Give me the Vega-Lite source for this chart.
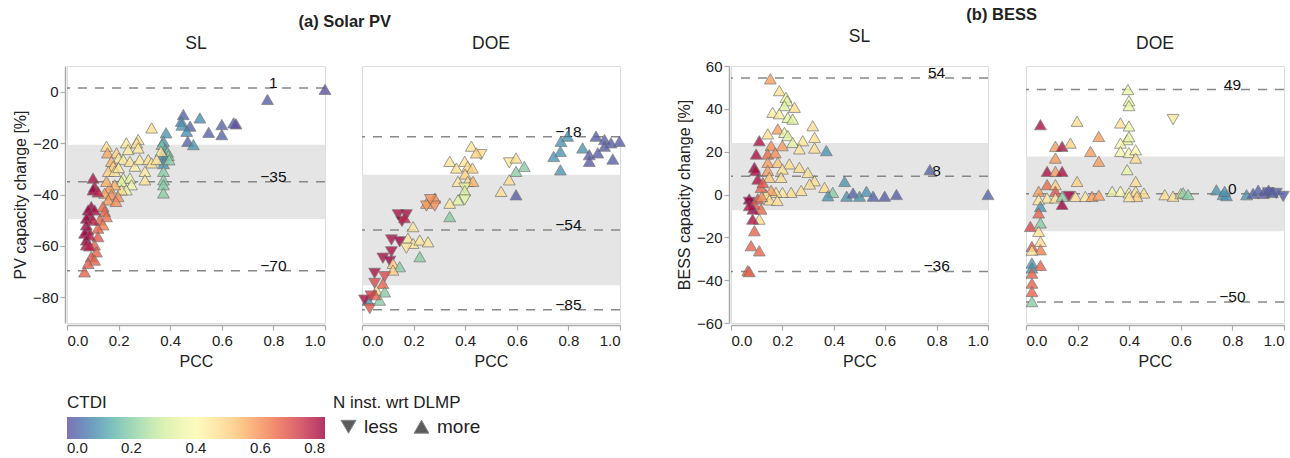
{
  "$schema": "https://vega.github.io/schema/vega-lite/v6.json",
  "padding": {"left": 12, "top": 6, "right": 0, "bottom": 0},
  "config": {
    "font": "Liberation Sans",
    "view": {"stroke": "#dcdcdc"},
    "axis": {"offset": 2, "domainColor": "#aaa", "domainWidth": 1.5, "tickColor": "#aaa", "tickWidth": 1.2, "tickSize": 5, "grid": false, "labelFontSize": 15, "titleFontSize": 16, "labelColor": "#222", "titleColor": "#222", "titleFontWeight": "normal"},
    "axisX": {"labelPadding": 3, "titlePadding": 5},
    "legend": {"titleFontWeight": "normal", "titleFontSize": 17, "titleColor": "#222", "labelColor": "#222"},
    "title": {"color": "#222"}
  },
  "datasets": {
    "pvsl": [
      {"x":1.0,"y":0.9,"c":0.0,"n":"more"},{"x":0.777,"y":-3.0,"c":0.02,"n":"more"},{"x":0.451,"y":-8.9,"c":0.03,"n":"more"},{"x":0.443,"y":-11.5,"c":0.08,"n":"more"},{"x":0.445,"y":-13,"c":0.1,"n":"more"},{"x":0.477,"y":-13.4,"c":0.03,"n":"more"},{"x":0.464,"y":-15.4,"c":0.09,"n":"more"},{"x":0.468,"y":-19.3,"c":0.03,"n":"more"},{"x":0.49,"y":-20.6,"c":0.1,"n":"more"},{"x":0.515,"y":-10.2,"c":0.09,"n":"more"},{"x":0.549,"y":-15.8,"c":0.03,"n":"more"},{"x":0.6,"y":-12.8,"c":0.03,"n":"more"},{"x":0.6,"y":-16.7,"c":0.03,"n":"more"},{"x":0.646,"y":-12.1,"c":0.02,"n":"more"},{"x":0.655,"y":-12.5,"c":0.0,"n":"more"},
      {"x":0.384,"y":-16,"c":0.1,"n":"more"},{"x":0.374,"y":-19.3,"c":0.1,"n":"more"},{"x":0.368,"y":-20.5,"c":0.17,"n":"more"},{"x":0.38,"y":-22.5,"c":0.12,"n":"more"},{"x":0.39,"y":-23.5,"c":0.2,"n":"more"},{"x":0.393,"y":-24.8,"c":0.2,"n":"more"},{"x":0.374,"y":-24.5,"c":0.1,"n":"more"},{"x":0.374,"y":-26.4,"c":0.1,"n":"more"},{"x":0.374,"y":-28,"c":0.1,"n":"more"},{"x":0.396,"y":-26.5,"c":0.2,"n":"more"},{"x":0.374,"y":-31,"c":0.2,"n":"more"},{"x":0.374,"y":-34.3,"c":0.2,"n":"more"},{"x":0.374,"y":-36.2,"c":0.19,"n":"more"},{"x":0.374,"y":-39.4,"c":0.2,"n":"more"},{"x":0.364,"y":-23.2,"c":0.45,"n":"more"},
      {"x":0.328,"y":-14.1,"c":0.47,"n":"more"},{"x":0.153,"y":-21.2,"c":0.47,"n":"more"},{"x":0.157,"y":-23.8,"c":0.57,"n":"more"},{"x":0.23,"y":-19.9,"c":0.45,"n":"more"},{"x":0.237,"y":-22.5,"c":0.44,"n":"more"},{"x":0.276,"y":-18.6,"c":0.45,"n":"more"},{"x":0.27,"y":-19.9,"c":0.47,"n":"more"},{"x":0.276,"y":-21.9,"c":0.44,"n":"more"},{"x":0.192,"y":-23.8,"c":0.5,"n":"more"},{"x":0.2,"y":-25.8,"c":0.45,"n":"more"},{"x":0.218,"y":-26.4,"c":0.43,"n":"more"},{"x":0.244,"y":-27.1,"c":0.45,"n":"more"},{"x":0.263,"y":-29,"c":0.42,"n":"more"},{"x":0.282,"y":-26.4,"c":0.44,"n":"more"},{"x":0.315,"y":-26.4,"c":0.47,"n":"more"},{"x":0.328,"y":-27.7,"c":0.45,"n":"more"},{"x":0.302,"y":-31,"c":0.44,"n":"more"},{"x":0.302,"y":-34.3,"c":0.46,"n":"more"},{"x":0.348,"y":-26.4,"c":0.47,"n":"more"},
      {"x":0.172,"y":-27.1,"c":0.55,"n":"more"},{"x":0.179,"y":-29,"c":0.5,"n":"more"},{"x":0.16,"y":-31,"c":0.5,"n":"more"},{"x":0.185,"y":-31,"c":0.46,"n":"more"},{"x":0.2,"y":-29.5,"c":0.45,"n":"more"},{"x":0.218,"y":-33.6,"c":0.35,"n":"more"},{"x":0.244,"y":-33.6,"c":0.34,"n":"more"},{"x":0.211,"y":-34.9,"c":0.32,"n":"more"},{"x":0.25,"y":-36.2,"c":0.36,"n":"more"},{"x":0.23,"y":-38.2,"c":0.36,"n":"more"},{"x":0.211,"y":-38.2,"c":0.48,"n":"more"},{"x":0.185,"y":-36.2,"c":0.55,"n":"more"},{"x":0.165,"y":-37.5,"c":0.58,"n":"more"},{"x":0.153,"y":-34.9,"c":0.56,"n":"more"},{"x":0.146,"y":-39.5,"c":0.57,"n":"more"},{"x":0.172,"y":-40.1,"c":0.6,"n":"more"},{"x":0.198,"y":-40.8,"c":0.6,"n":"more"},{"x":0.16,"y":-42.1,"c":0.58,"n":"more"},{"x":0.19,"y":-42.7,"c":0.6,"n":"more"},
      {"x":0.14,"y":-44.7,"c":0.65,"n":"more"},{"x":0.146,"y":-46.6,"c":0.66,"n":"more"},{"x":0.153,"y":-48.6,"c":0.64,"n":"more"},{"x":0.127,"y":-49.9,"c":0.66,"n":"more"},{"x":0.14,"y":-51.8,"c":0.62,"n":"more"},{"x":0.12,"y":-53.1,"c":0.66,"n":"more"},{"x":0.12,"y":-56.4,"c":0.68,"n":"more"},{"x":0.107,"y":-59.6,"c":0.67,"n":"more"},{"x":0.114,"y":-62.3,"c":0.66,"n":"more"},{"x":0.094,"y":-64.2,"c":0.68,"n":"more"},{"x":0.107,"y":-65.5,"c":0.66,"n":"more"},{"x":0.082,"y":-66.8,"c":0.67,"n":"more"},{"x":0.068,"y":-70.1,"c":0.66,"n":"more"},
      {"x":0.101,"y":-33.6,"c":0.78,"n":"more"},{"x":0.107,"y":-36.9,"c":0.78,"n":"more"},{"x":0.101,"y":-38.2,"c":0.8,"n":"more"},{"x":0.12,"y":-39,"c":0.76,"n":"more"},{"x":0.094,"y":-44.7,"c":0.8,"n":"more"},{"x":0.107,"y":-46,"c":0.78,"n":"more"},{"x":0.082,"y":-46,"c":0.8,"n":"more"},{"x":0.088,"y":-48,"c":0.78,"n":"more"},{"x":0.075,"y":-49.2,"c":0.8,"n":"more"},{"x":0.1,"y":-50,"c":0.76,"n":"more"},{"x":0.075,"y":-51.8,"c":0.8,"n":"more"},{"x":0.082,"y":-53.8,"c":0.78,"n":"more"},{"x":0.068,"y":-55,"c":0.8,"n":"more"},{"x":0.087,"y":-55.8,"c":0.77,"n":"more"},{"x":0.075,"y":-57.7,"c":0.8,"n":"more"},{"x":0.075,"y":-59.6,"c":0.78,"n":"more"},{"x":0.087,"y":-60,"c":0.76,"n":"more"}
    ],
    "pvdoe": [
      {"x":0.771,"y":-19.3,"c":0.1,"n":"more"},{"x":0.797,"y":-17.3,"c":0.1,"n":"more"},{"x":0.769,"y":-23.2,"c":0.1,"n":"more"},{"x":0.743,"y":-25.2,"c":0.1,"n":"more"},{"x":0.769,"y":-30.4,"c":0.1,"n":"more"},{"x":0.855,"y":-21.9,"c":0.1,"n":"more"},{"x":0.907,"y":-17.3,"c":0.02,"n":"more"},{"x":0.94,"y":-18.6,"c":0.02,"n":"more"},{"x":0.965,"y":-19.9,"c":0.02,"n":"more"},{"x":0.998,"y":-19.3,"c":0.02,"n":"more"},{"x":0.94,"y":-21.2,"c":0.02,"n":"more"},{"x":0.914,"y":-23.8,"c":0.02,"n":"more"},{"x":0.881,"y":-24.5,"c":0.02,"n":"more"},{"x":0.881,"y":-27.1,"c":0.02,"n":"more"},{"x":0.972,"y":-26.2,"c":0.02,"n":"more"},
      {"x":0.461,"y":-24.5,"c":0.47,"n":"less"},{"x":0.571,"y":-27.7,"c":0.45,"n":"less"},{"x":0.597,"y":-25.8,"c":0.47,"n":"more"},{"x":0.629,"y":-29.1,"c":0.2,"n":"more"},{"x":0.597,"y":-31,"c":0.2,"n":"more"},{"x":0.571,"y":-34.3,"c":0.47,"n":"more"},{"x":0.539,"y":-38.8,"c":0.47,"n":"more"},{"x":0.597,"y":-40.1,"c":0.02,"n":"more"},
      {"x":0.424,"y":-21.2,"c":0.45,"n":"more"},{"x":0.443,"y":-23.8,"c":0.5,"n":"more"},{"x":0.34,"y":-27.1,"c":0.45,"n":"more"},{"x":0.398,"y":-27.1,"c":0.45,"n":"more"},{"x":0.366,"y":-29.7,"c":0.48,"n":"more"},{"x":0.41,"y":-29,"c":0.48,"n":"more"},{"x":0.428,"y":-29.7,"c":0.5,"n":"more"},{"x":0.4,"y":-32,"c":0.5,"n":"more"},{"x":0.372,"y":-34.9,"c":0.45,"n":"more"},{"x":0.41,"y":-34.9,"c":0.47,"n":"more"},{"x":0.43,"y":-34.9,"c":0.55,"n":"more"},{"x":0.398,"y":-37.5,"c":0.35,"n":"less"},{"x":0.398,"y":-38.5,"c":0.3,"n":"more"},{"x":0.398,"y":-42.1,"c":0.33,"n":"less"},{"x":0.372,"y":-42.1,"c":0.33,"n":"more"},{"x":0.34,"y":-43.4,"c":0.45,"n":"more"},{"x":0.34,"y":-48.6,"c":0.2,"n":"more"},
      {"x":0.25,"y":-43.4,"c":0.58,"n":"more"},{"x":0.25,"y":-44.5,"c":0.58,"n":"less"},{"x":0.282,"y":-41.4,"c":0.6,"n":"more"},{"x":0.282,"y":-44.5,"c":0.6,"n":"less"},{"x":0.265,"y":-42,"c":0.6,"n":"less"},
      {"x":0.14,"y":-47.9,"c":0.78,"n":"less"},{"x":0.172,"y":-47.9,"c":0.78,"n":"less"},{"x":0.155,"y":-50.5,"c":0.8,"n":"less"},{"x":0.165,"y":-49,"c":0.75,"n":"more"},{"x":0.198,"y":-52.5,"c":0.45,"n":"more"},{"x":0.114,"y":-57.7,"c":0.78,"n":"less"},{"x":0.146,"y":-58.4,"c":0.8,"n":"less"},{"x":0.178,"y":-57,"c":0.45,"n":"more"},{"x":0.198,"y":-59,"c":0.45,"n":"more"},{"x":0.224,"y":-57.7,"c":0.45,"n":"more"},{"x":0.256,"y":-58.4,"c":0.45,"n":"more"},{"x":0.172,"y":-60.9,"c":0.45,"n":"less"},{"x":0.224,"y":-64.2,"c":0.2,"n":"more"},{"x":0.114,"y":-62.3,"c":0.78,"n":"less"},{"x":0.081,"y":-64.8,"c":0.78,"n":"less"},{"x":0.108,"y":-66,"c":0.8,"n":"less"},{"x":0.12,"y":-66.8,"c":0.5,"n":"more"},{"x":0.146,"y":-68.1,"c":0.2,"n":"more"},{"x":0.12,"y":-69.4,"c":0.5,"n":"more"},{"x":0.049,"y":-70.7,"c":0.78,"n":"less"},{"x":0.088,"y":-72,"c":0.7,"n":"less"},{"x":0.081,"y":-74.6,"c":0.66,"n":"more"},{"x":0.049,"y":-74.6,"c":0.7,"n":"less"},{"x":0.056,"y":-77.2,"c":0.5,"n":"more"},{"x":0.088,"y":-77.9,"c":0.2,"n":"more"},{"x":0.023,"y":-81.1,"c":0.1,"n":"more"},{"x":0.01,"y":-81.1,"c":0.78,"n":"less"},{"x":0.03,"y":-84.4,"c":0.68,"n":"less"},{"x":0.068,"y":-81.1,"c":0.2,"n":"more"},{"x":0.05,"y":-79,"c":0.66,"n":"more"},{"x":0.035,"y":-79.5,"c":0.72,"n":"less"}
    ],
    "bsl": [
      {"x":0.153,"y":54,"c":0.58,"n":"more"},{"x":0.188,"y":48.5,"c":0.47,"n":"more"},{"x":0.214,"y":45.4,"c":0.4,"n":"more"},{"x":0.218,"y":43.8,"c":0.33,"n":"more"},{"x":0.208,"y":41.5,"c":0.33,"n":"more"},{"x":0.247,"y":40.7,"c":0.48,"n":"more"},{"x":0.162,"y":38.4,"c":0.43,"n":"more"},{"x":0.188,"y":37.7,"c":0.43,"n":"more"},{"x":0.221,"y":36,"c":0.32,"n":"more"},{"x":0.24,"y":35.2,"c":0.33,"n":"more"},{"x":0.318,"y":32.1,"c":0.47,"n":"more"},{"x":0.182,"y":30.6,"c":0.58,"n":"more"},{"x":0.208,"y":29,"c":0.33,"n":"more"},{"x":0.221,"y":27.5,"c":0.33,"n":"more"},{"x":0.143,"y":28.3,"c":0.47,"n":"more"},{"x":0.325,"y":26.7,"c":0.47,"n":"more"},{"x":0.279,"y":25.1,"c":0.45,"n":"more"},{"x":0.24,"y":24.3,"c":0.33,"n":"more"},{"x":0.11,"y":25.1,"c":0.78,"n":"more"},{"x":0.156,"y":22.8,"c":0.6,"n":"more"},{"x":0.2,"y":22.8,"c":0.58,"n":"more"},{"x":0.266,"y":21.3,"c":0.45,"n":"more"},{"x":0.325,"y":21.7,"c":0.47,"n":"more"},{"x":0.371,"y":20.5,"c":0.1,"n":"more"},
      {"x":0.098,"y":18.9,"c":0.78,"n":"more"},{"x":0.143,"y":18.9,"c":0.65,"n":"more"},{"x":0.172,"y":19.5,"c":0.6,"n":"more"},{"x":0.143,"y":15,"c":0.58,"n":"more"},{"x":0.182,"y":15,"c":0.52,"n":"more"},{"x":0.227,"y":14.3,"c":0.47,"n":"more"},{"x":0.266,"y":12.7,"c":0.47,"n":"more"},{"x":0.091,"y":12.7,"c":0.8,"n":"more"},{"x":0.095,"y":11.2,"c":0.78,"n":"more"},{"x":0.143,"y":11.2,"c":0.58,"n":"more"},{"x":0.2,"y":11.9,"c":0.47,"n":"more"},{"x":0.299,"y":10.3,"c":0.47,"n":"more"},{"x":0.104,"y":7.2,"c":0.78,"n":"more"},{"x":0.149,"y":8,"c":0.52,"n":"more"},{"x":0.195,"y":8,"c":0.47,"n":"more"},{"x":0.325,"y":6.4,"c":0.47,"n":"more"},{"x":0.306,"y":4.9,"c":0.47,"n":"more"},{"x":0.273,"y":1.9,"c":0.47,"n":"more"},{"x":0.234,"y":1,"c":0.47,"n":"more"},{"x":0.2,"y":1,"c":0.45,"n":"more"},{"x":0.175,"y":1,"c":0.47,"n":"more"},{"x":0.156,"y":1.9,"c":0.58,"n":"more"},{"x":0.136,"y":0,"c":0.47,"n":"more"},{"x":0.117,"y":3.3,"c":0.66,"n":"more"},{"x":0.124,"y":5.6,"c":0.68,"n":"more"},
      {"x":0.364,"y":3.3,"c":0.48,"n":"more"},{"x":0.396,"y":1,"c":0.2,"n":"more"},{"x":0.377,"y":-0.6,"c":0.1,"n":"more"},{"x":0.442,"y":6.1,"c":0.1,"n":"more"},{"x":0.45,"y":-0.8,"c":0.1,"n":"more"},{"x":0.475,"y":0.7,"c":0.03,"n":"more"},{"x":0.5,"y":-0.8,"c":0.1,"n":"more"},{"x":0.527,"y":1.5,"c":0.1,"n":"more"},{"x":0.553,"y":-0.8,"c":0.03,"n":"more"},{"x":0.598,"y":-0.8,"c":0.02,"n":"more"},{"x":0.644,"y":0,"c":0.02,"n":"more"},{"x":0.774,"y":11.6,"c":0.03,"n":"more"},{"x":1.0,"y":0,"c":0.03,"n":"more"},
      {"x":0.071,"y":-2.1,"c":0.8,"n":"more"},{"x":0.071,"y":-3.7,"c":0.8,"n":"less"},{"x":0.104,"y":-2,"c":0.68,"n":"more"},{"x":0.091,"y":-4.5,"c":0.68,"n":"more"},{"x":0.117,"y":-6.8,"c":0.65,"n":"more"},{"x":0.085,"y":-6.8,"c":0.8,"n":"more"},{"x":0.071,"y":-5.2,"c":0.78,"n":"more"},{"x":0.11,"y":-11.5,"c":0.47,"n":"more"},{"x":0.084,"y":-11.5,"c":0.78,"n":"more"},{"x":0.091,"y":-16.9,"c":0.66,"n":"more"},{"x":0.078,"y":-23.9,"c":0.66,"n":"more"},{"x":0.11,"y":-26.3,"c":0.66,"n":"more"},{"x":0.065,"y":-35.6,"c":0.66,"n":"more"},{"x":0.071,"y":-36,"c":0.66,"n":"more"},{"x":0.15,"y":-2.5,"c":0.47,"n":"more"},{"x":0.18,"y":-2.8,"c":0.47,"n":"more"},{"x":0.12,"y":-1,"c":0.6,"n":"more"}
    ],
    "bdoe": [
      {"x":0.056,"y":32.6,"c":0.78,"n":"more"},{"x":0.198,"y":34.2,"c":0.47,"n":"more"},{"x":0.282,"y":27.1,"c":0.58,"n":"more"},{"x":0.114,"y":22.5,"c":0.58,"n":"more"},{"x":0.14,"y":22.5,"c":0.78,"n":"more"},{"x":0.172,"y":24,"c":0.5,"n":"more"},{"x":0.25,"y":20.1,"c":0.58,"n":"more"},{"x":0.282,"y":15.5,"c":0.58,"n":"more"},{"x":0.114,"y":17,"c":0.58,"n":"more"},{"x":0.082,"y":10.8,"c":0.78,"n":"more"},{"x":0.114,"y":10.8,"c":0.58,"n":"more"},{"x":0.14,"y":10.8,"c":0.78,"n":"more"},{"x":0.198,"y":6.1,"c":0.5,"n":"more"},{"x":0.082,"y":4.6,"c":0.65,"n":"more"},{"x":0.114,"y":4.6,"c":0.5,"n":"more"},{"x":0.049,"y":1.5,"c":0.58,"n":"more"},{"x":0.114,"y":1.5,"c":0.68,"n":"more"},{"x":0.082,"y":-1.6,"c":0.45,"n":"more"},{"x":0.114,"y":-1.6,"c":0.47,"n":"more"},{"x":0.14,"y":-0.9,"c":0.2,"n":"more"},{"x":0.166,"y":-0.9,"c":0.8,"n":"less"},{"x":0.192,"y":-0.9,"c":0.47,"n":"more"},{"x":0.23,"y":-0.9,"c":0.45,"n":"more"},{"x":0.256,"y":-0.9,"c":0.58,"n":"more"},{"x":0.282,"y":-0.3,"c":0.58,"n":"more"},
      {"x":0.049,"y":-2.4,"c":0.45,"n":"more"},{"x":0.056,"y":-5.6,"c":0.1,"n":"more"},{"x":0.14,"y":-4.6,"c":0.8,"n":"more"},{"x":0.049,"y":-8.6,"c":0.66,"n":"more"},{"x":0.017,"y":-14.9,"c":0.7,"n":"more"},{"x":0.056,"y":-13.3,"c":0.2,"n":"more"},{"x":0.049,"y":-17.2,"c":0.47,"n":"more"},{"x":0.056,"y":-21.9,"c":0.48,"n":"more"},{"x":0.023,"y":-24.2,"c":0.68,"n":"more"},{"x":0.056,"y":-25.8,"c":0.62,"n":"more"},{"x":0.023,"y":-26,"c":0.47,"n":"more"},{"x":0.023,"y":-32,"c":0.1,"n":"more"},{"x":0.056,"y":-33.1,"c":0.66,"n":"more"},{"x":0.023,"y":-34.3,"c":0.1,"n":"more"},{"x":0.023,"y":-36.7,"c":0.66,"n":"more"},{"x":0.023,"y":-41.4,"c":0.66,"n":"more"},{"x":0.023,"y":-45.3,"c":0.66,"n":"more"},{"x":0.023,"y":-50,"c":0.2,"n":"more"},
      {"x":0.395,"y":49,"c":0.35,"n":"more"},{"x":0.399,"y":43.8,"c":0.35,"n":"more"},{"x":0.399,"y":41.5,"c":0.35,"n":"more"},{"x":0.366,"y":33.4,"c":0.47,"n":"more"},{"x":0.399,"y":32,"c":0.35,"n":"more"},{"x":0.392,"y":25.6,"c":0.35,"n":"more"},{"x":0.399,"y":27,"c":0.35,"n":"more"},{"x":0.366,"y":24,"c":0.4,"n":"more"},{"x":0.366,"y":20.1,"c":0.38,"n":"more"},{"x":0.399,"y":19.6,"c":0.4,"n":"more"},{"x":0.425,"y":20.9,"c":0.4,"n":"more"},{"x":0.425,"y":17,"c":0.47,"n":"more"},{"x":0.392,"y":11.6,"c":0.35,"n":"more"},{"x":0.425,"y":6.1,"c":0.47,"n":"more"},{"x":0.457,"y":0.7,"c":0.47,"n":"more"},{"x":0.334,"y":1.5,"c":0.35,"n":"more"},{"x":0.366,"y":1.5,"c":0.4,"n":"more"},{"x":0.399,"y":0.8,"c":0.4,"n":"more"},{"x":0.425,"y":1.5,"c":0.47,"n":"more"},{"x":0.43,"y":-0.9,"c":0.5,"n":"more"},{"x":0.4,"y":-1,"c":0.45,"n":"more"},
      {"x":0.57,"y":35,"c":0.45,"n":"less"},{"x":0.538,"y":-0.1,"c":0.47,"n":"more"},{"x":0.57,"y":-0.8,"c":0.47,"n":"more"},{"x":0.6,"y":0.4,"c":0.45,"n":"more"},{"x":0.609,"y":0.8,"c":0.2,"n":"more"},{"x":0.628,"y":0,"c":0.2,"n":"more"},{"x":0.738,"y":2.2,"c":0.1,"n":"more"},{"x":0.764,"y":0,"c":0.1,"n":"more"},{"x":0.777,"y":-0.5,"c":0.1,"n":"more"},{"x":0.77,"y":1.5,"c":0.1,"n":"more"},{"x":0.855,"y":-0.1,"c":0.1,"n":"more"},{"x":0.88,"y":0.5,"c":0.03,"n":"more"},{"x":0.9,"y":2,"c":0.03,"n":"more"},{"x":0.92,"y":0.5,"c":0.02,"n":"more"},{"x":0.94,"y":2,"c":0.02,"n":"more"},{"x":0.955,"y":1,"c":0.03,"n":"more"},{"x":0.97,"y":0.5,"c":0.02,"n":"less"},{"x":0.997,"y":-0.9,"c":0.02,"n":"less"},{"x":0.94,"y":0.8,"c":0.02,"n":"less"}
    ],
    "lines": [
      {"p":"pvsl","v":1.4,"l":"1"},{"p":"pvsl","v":-35,"l":"−35"},{"p":"pvsl","v":-69.7,"l":"−70"},
      {"p":"pvdoe","v":-17.5,"l":"−18"},{"p":"pvdoe","v":-53.8,"l":"−54"},{"p":"pvdoe","v":-84.8,"l":"−85"},
      {"p":"bsl","v":54.4,"l":"54"},{"p":"bsl","v":8.5,"l":"8"},{"p":"bsl","v":-35.9,"l":"−36"},
      {"p":"bdoe","v":49,"l":"49"},{"p":"bdoe","v":0.3,"l":"0"},{"p":"bdoe","v":-50.2,"l":"−50"}
    ],
    "bands": [
      {"p":"pvsl","lo":-49.5,"hi":-20.6},{"p":"pvdoe","lo":-75.3,"hi":-32.3},{"p":"bsl","lo":-7.4,"hi":24.1},{"p":"bdoe","lo":-17.2,"hi":17.8}
    ]
  },
  "spacing": 48,
  "hconcat": [
    {
      "title": {"text": "(a) Solar PV", "fontWeight": "bold", "fontSize": 16.5, "offset": 4, "anchor": "middle", "dx": 25},
      "spacing": 37,
      "bounds": "flush",
      "hconcat": [
        {
          "title": {"text": "SL", "fontSize": 17.5, "fontWeight": "normal", "offset": 14},
          "width": 258, "height": 257,
          "layer": [
            {"data": {"name": "bands"}, "transform": [{"filter": "datum.p == 'pvsl'"}], "mark": {"type": "rect", "color": "#e5e5e5"},
             "encoding": {"y": {"field": "lo", "type": "quantitative", "scale": {"domain": [-90, 10], "nice": false, "zero": false}, "axis": {"title": "PV capacity change [%]", "values": [-80, -60, -40, -20, 0]}}, "y2": {"field": "hi"}}},
            {"data": {"name": "lines"}, "transform": [{"filter": "datum.p == 'pvsl'"}], "mark": {"type": "rule", "strokeDash": [9, 8], "color": "#888", "strokeWidth": 1.5},
             "encoding": {"y": {"field": "v", "type": "quantitative", "scale": {"domain": [-90, 10], "nice": false, "zero": false}, "title": "PV capacity change [%]"}}},
            {"data": {"name": "lines"}, "transform": [{"filter": "datum.p == 'pvsl'"}], "mark": {"type": "text", "fontSize": 15.5, "align": "center", "baseline": "alphabetic", "color": "#111"},
             "encoding": {"x": {"datum": 0.8, "type": "quantitative", "scale": {"domain": [0, 1], "nice": false}, "title": "PCC"}, "y": {"field": "v", "type": "quantitative", "scale": {"domain": [-90, 10], "nice": false, "zero": false}, "title": "PV capacity change [%]"}, "text": {"field": "l"}}},
            {"data": {"name": "pvsl"}, "mark": {"type": "point", "filled": true, "size": 140, "opacity": 0.8, "stroke": "#666", "strokeWidth": 0.8},
             "encoding": {
               "x": {"field": "x", "type": "quantitative", "scale": {"domain": [0, 1], "nice": false}, "title": "PCC", "axis": {"values": [0, 0.2, 0.4, 0.6, 0.8, 1.0], "format": ".1f"}},
               "y": {"field": "y", "type": "quantitative", "scale": {"domain": [-90, 10], "nice": false, "zero": false}, "title": "PV capacity change [%]"},
               "color": {"field": "c", "type": "quantitative", "scale": {"scheme": "spectral", "reverse": true, "domain": [0, 0.8]}, "legend": {"title": "CTDI", "orient": "bottom", "direction": "horizontal", "offset": 25, "gradientLength": 258, "gradientThickness": 22, "gradientStrokeWidth": 0, "labelFontSize": 15, "titleFontSize": 17, "titleFontWeight": "normal", "values": [0, 0.2, 0.4, 0.6, 0.8], "format": ".1f"}},
               "shape": {"field": "n", "type": "nominal", "scale": {"domain": ["less", "more"], "range": ["triangle-down", "triangle-up"]}, "legend": {"title": "N inst. wrt DLMP", "orient": "bottom", "direction": "horizontal", "offset": 25, "symbolSize": 220, "symbolOffset": 6, "labelFontSize": 19, "labelOffset": 6, "columnPadding": 8, "titleFontSize": 17, "titleFontWeight": "normal", "symbolStrokeWidth": 1, "encode": {"symbols": {"update": {"fill": {"value": "#7a7a7a"}, "stroke": {"value": "#555"}, "opacity": {"value": 1}}}}}}
             }}
          ]
        },
        {
          "title": {"text": "DOE", "fontSize": 17.5, "fontWeight": "normal", "offset": 14},
          "width": 258, "height": 257,
          "layer": [
            {"data": {"name": "bands"}, "transform": [{"filter": "datum.p == 'pvdoe'"}], "mark": {"type": "rect", "color": "#e5e5e5"},
             "encoding": {"y": {"field": "lo", "type": "quantitative", "scale": {"domain": [-90, 10], "nice": false, "zero": false}, "axis": null}, "y2": {"field": "hi"}}},
            {"data": {"name": "lines"}, "transform": [{"filter": "datum.p == 'pvdoe'"}], "mark": {"type": "rule", "strokeDash": [9, 8], "color": "#888", "strokeWidth": 1.5},
             "encoding": {"y": {"field": "v", "type": "quantitative", "scale": {"domain": [-90, 10], "nice": false, "zero": false}, "axis": null}}},
            {"data": {"name": "lines"}, "transform": [{"filter": "datum.p == 'pvdoe'"}], "mark": {"type": "text", "fontSize": 15.5, "align": "center", "baseline": "alphabetic", "color": "#111"},
             "encoding": {"x": {"datum": 0.8, "type": "quantitative", "scale": {"domain": [0, 1], "nice": false}, "title": "PCC"}, "y": {"field": "v", "type": "quantitative", "scale": {"domain": [-90, 10], "nice": false, "zero": false}, "axis": null}, "text": {"field": "l"}}},
            {"data": {"name": "pvdoe"}, "mark": {"type": "point", "filled": true, "size": 140, "opacity": 0.8, "stroke": "#666", "strokeWidth": 0.8},
             "encoding": {
               "x": {"field": "x", "type": "quantitative", "scale": {"domain": [0, 1], "nice": false}, "title": "PCC", "axis": {"values": [0, 0.2, 0.4, 0.6, 0.8, 1.0], "format": ".1f"}},
               "y": {"field": "y", "type": "quantitative", "scale": {"domain": [-90, 10], "nice": false, "zero": false}, "axis": null},
               "color": {"field": "c", "type": "quantitative", "scale": {"scheme": "spectral", "reverse": true, "domain": [0, 0.8]}},
               "shape": {"field": "n", "type": "nominal", "scale": {"domain": ["less", "more"], "range": ["triangle-down", "triangle-up"]}}
             }}
          ]
        }
      ]
    },
    {
      "title": {"text": "(b) BESS", "fontWeight": "bold", "fontSize": 16.5, "offset": 4, "anchor": "middle", "dx": 18},
      "spacing": 38,
      "bounds": "flush",
      "hconcat": [
        {
          "title": {"text": "SL", "fontSize": 17.5, "fontWeight": "normal", "offset": 14},
          "width": 257, "height": 257,
          "layer": [
            {"data": {"name": "bands"}, "transform": [{"filter": "datum.p == 'bsl'"}], "mark": {"type": "rect", "color": "#e5e5e5"},
             "encoding": {"y": {"field": "lo", "type": "quantitative", "scale": {"domain": [-60, 60], "nice": false, "zero": false}, "axis": {"title": "BESS capacity change [%]", "values": [-60, -40, -20, 0, 20, 40, 60]}}, "y2": {"field": "hi"}}},
            {"data": {"name": "lines"}, "transform": [{"filter": "datum.p == 'bsl'"}], "mark": {"type": "rule", "strokeDash": [9, 8], "color": "#888", "strokeWidth": 1.5},
             "encoding": {"y": {"field": "v", "type": "quantitative", "scale": {"domain": [-60, 60], "nice": false, "zero": false}, "title": "BESS capacity change [%]"}}},
            {"data": {"name": "lines"}, "transform": [{"filter": "datum.p == 'bsl'"}], "mark": {"type": "text", "fontSize": 15.5, "align": "center", "baseline": "alphabetic", "color": "#111"},
             "encoding": {"x": {"datum": 0.8, "type": "quantitative", "scale": {"domain": [0, 1], "nice": false}, "title": "PCC"}, "y": {"field": "v", "type": "quantitative", "scale": {"domain": [-60, 60], "nice": false, "zero": false}, "title": "BESS capacity change [%]"}, "text": {"field": "l"}}},
            {"data": {"name": "bsl"}, "mark": {"type": "point", "filled": true, "size": 140, "opacity": 0.8, "stroke": "#666", "strokeWidth": 0.8},
             "encoding": {
               "x": {"field": "x", "type": "quantitative", "scale": {"domain": [0, 1], "nice": false}, "title": "PCC", "axis": {"values": [0, 0.2, 0.4, 0.6, 0.8, 1.0], "format": ".1f"}},
               "y": {"field": "y", "type": "quantitative", "scale": {"domain": [-60, 60], "nice": false, "zero": false}, "title": "BESS capacity change [%]"},
               "color": {"field": "c", "type": "quantitative", "scale": {"scheme": "spectral", "reverse": true, "domain": [0, 0.8]}},
               "shape": {"field": "n", "type": "nominal", "scale": {"domain": ["less", "more"], "range": ["triangle-down", "triangle-up"]}}
             }}
          ]
        },
        {
          "title": {"text": "DOE", "fontSize": 17.5, "fontWeight": "normal", "offset": 14},
          "width": 258, "height": 257,
          "layer": [
            {"data": {"name": "bands"}, "transform": [{"filter": "datum.p == 'bdoe'"}], "mark": {"type": "rect", "color": "#e5e5e5"},
             "encoding": {"y": {"field": "lo", "type": "quantitative", "scale": {"domain": [-60, 60], "nice": false, "zero": false}, "axis": null}, "y2": {"field": "hi"}}},
            {"data": {"name": "lines"}, "transform": [{"filter": "datum.p == 'bdoe'"}], "mark": {"type": "rule", "strokeDash": [9, 8], "color": "#888", "strokeWidth": 1.5},
             "encoding": {"y": {"field": "v", "type": "quantitative", "scale": {"domain": [-60, 60], "nice": false, "zero": false}, "axis": null}}},
            {"data": {"name": "lines"}, "transform": [{"filter": "datum.p == 'bdoe'"}], "mark": {"type": "text", "fontSize": 15.5, "align": "center", "baseline": "alphabetic", "color": "#111"},
             "encoding": {"x": {"datum": 0.8, "type": "quantitative", "scale": {"domain": [0, 1], "nice": false}, "title": "PCC"}, "y": {"field": "v", "type": "quantitative", "scale": {"domain": [-60, 60], "nice": false, "zero": false}, "axis": null}, "text": {"field": "l"}}},
            {"data": {"name": "bdoe"}, "mark": {"type": "point", "filled": true, "size": 140, "opacity": 0.8, "stroke": "#666", "strokeWidth": 0.8},
             "encoding": {
               "x": {"field": "x", "type": "quantitative", "scale": {"domain": [0, 1], "nice": false}, "title": "PCC", "axis": {"values": [0, 0.2, 0.4, 0.6, 0.8, 1.0], "format": ".1f"}},
               "y": {"field": "y", "type": "quantitative", "scale": {"domain": [-60, 60], "nice": false, "zero": false}, "axis": null},
               "color": {"field": "c", "type": "quantitative", "scale": {"scheme": "spectral", "reverse": true, "domain": [0, 0.8]}},
               "shape": {"field": "n", "type": "nominal", "scale": {"domain": ["less", "more"], "range": ["triangle-down", "triangle-up"]}}
             }}
          ]
        }
      ]
    }
  ]
}
